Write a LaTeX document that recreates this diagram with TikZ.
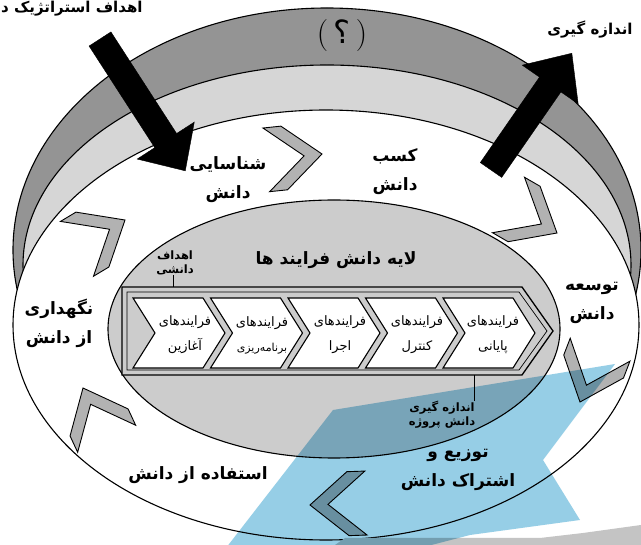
\documentclass[tikz,border=0pt]{standalone}
\usepackage{fontspec}
\newfontfamily\fafont[Script=Arabic]{DejaVu Sans}
\TeXXeTstate=1
\newcommand\faR[1]{\beginR#1\endR}
\definecolor{ringdark}{RGB}{148,148,148}
\definecolor{ringlight}{RGB}{214,214,214}
\definecolor{innergrey}{RGB}{204,204,204}
\definecolor{markgrey}{RGB}{178,178,178}
\definecolor{wmblue}{RGB}{150,206,230}
\definecolor{wmgrey}{RGB}{196,196,196}
\tikzset{
  outl/.style={draw=black, line width=1.1pt},
  lbl/.style={font=\fafont\bfseries\fontsize{17}{29}\selectfont, align=center, inner sep=0pt},
  small/.style={font=\fafont\bfseries\fontsize{11.5}{14}\selectfont, align=center, inner sep=0pt},
  proc/.style={font=\fafont\fontsize{13}{25}\selectfont, align=center, inner sep=0pt},
  chev/.style={fill=white, draw=black, line width=1.1pt, line join=miter},
  marker/.style={fill=markgrey, draw=black, line width=0.9pt, line join=miter},
  bigarrow/.style={fill=black, draw=black, line join=miter}
}
\begin{document}
\begin{tikzpicture}[x=1pt,y=-1pt]
\useasboundingbox (0,0) rectangle (641,545);
\clip (0,0) rectangle (641,545);
\fill[white] (0,0) rectangle (641,545);
% rings
\filldraw[fill=ringdark, outl] (327,250) ellipse [x radius=314pt, y radius=242pt];
\filldraw[fill=ringlight, outl] (327,265) ellipse [x radius=304pt, y radius=200pt];
\filldraw[fill=white, outl] (326,325) ellipse [x radius=313pt, y radius=215pt];
\filldraw[fill=innergrey, outl] (334,329) ellipse [x radius=226pt, y radius=129pt];
% process band
\filldraw[fill=innergrey, draw=black, line width=1.3pt, line join=miter]
  (122,287) -- (522,287) -- (553,331) -- (522,375) -- (122,375) -- cycle;
\draw[line width=0.7pt, line join=miter]
  (127,292) -- (519,292) -- (547,331) -- (519,370) -- (127,370) -- cycle;
\foreach \i in {0,...,4}{
  \pgfmathsetmacro\xa{133+77.5*\i}
  \filldraw[chev] (\xa,298) -- ({\xa+70},298) -- ({\xa+92},333) -- ({\xa+70},368) -- (\xa,368) -- ({\xa+22},333) -- cycle;
}
\node[proc] (p1) at (185,335) {\faR{فرایندهای}\\\faR{آغازین}};
\node[proc] (p2) at (262,335) {\faR{فرایندهای}\\{\fontsize{11}{25}\selectfont\faR{برنامه‌ریزی}}};
\node[proc] (p3) at (340,335) {\faR{فرایندهای}\\\faR{اجرا}};
\node[proc] (p4) at (417,335) {\faR{فرایندهای}\\\faR{کنترل}};
\node[proc] (p5) at (493,335) {\faR{فرایندهای}\\\faR{پایانی}};
% inner labels
\node[lbl] (layer) at (336,260) {\faR{لایه دانش فرایند ها}};
\node[small] (goals) at (175,263) {\faR{اهداف}\\\faR{دانشی}};
\coordinate (t1) at (173,287);
\draw[line width=0.8pt] (t1 |- goals.south) -- (t1);
% markers
\foreach \vx/\vy/\ang in {322/154/6, 557/233/-30, 580/402/-111, 310/505/182, 83/388/115, 125/220/31}{
  \filldraw[marker, shift={(\vx,\vy)}, rotate=\ang]
    (0,0) -- (-38,32) -- (-56,32) -- (-18,0) -- (-56,-32) -- (-38,-32) -- cycle;
}
% big arrows
\filldraw[bigarrow, shift={(100,39)}, rotate=-57.1]
  (0,-13) -- (121,-13) -- (121,-34) -- (157,0) -- (121,34) -- (121,13) -- (0,13) -- cycle;
\filldraw[bigarrow, shift={(491,170)}, rotate=55.3]
  (0,-13) -- (104,-13) -- (104,-34) -- (142,0) -- (104,34) -- (104,13) -- (0,13) -- cycle;
% ring labels
\node[lbl] (shen) at (228,180) {\faR{شناسایی}\\\faR{دانش}};
\node[lbl] (kasb) at (395,172) {\faR{کسب}\\\faR{دانش}};
\node[lbl] (tows) at (592,303) {\faR{توسعه}\\\faR{دانش}};
\node[lbl] (negah) at (59,323) {\faR{نگهداری}\\\faR{از دانش}};
\node[lbl] (estef) at (198,475) {\faR{استفاده از دانش}};
\node[lbl] (tozi) at (458,470) {\faR{توزیع و}\\\faR{اشتراک دانش}};
\node[small] (meas) at (442,415) {\faR{اندازه گیری}\\\faR{دانش پروژه}};
\coordinate (t2) at (474,375);
\draw[line width=0.8pt] (t2) -- (t2 |- meas.north);
% top labels
\node[lbl, anchor=west, font=\fafont\bfseries\fontsize{15}{18}\selectfont] (strat) at (1,9) {\faR{اهداف استراتژیک د}};
\node[lbl, font=\fafont\bfseries\fontsize{15}{18}\selectfont] (andaz) at (590,30) {\faR{اندازه گیری}};
\node[inner sep=0pt, font=\fontsize{32}{32}\selectfont] (qm) at (342,36) {(\,{\fafont ؟}\,)};
% watermark-like overlay shapes
\fill[wmgrey] (335,545) -- (345,538) -- (540,538) -- (583,533) -- (641,525) -- (641,545) -- cycle;
\fill[wmblue, blend mode=multiply] (333,410) -- (615,364) -- (543,460) -- (580,520) -- (470,535) -- (420,548) -- (226,548) -- cycle;
\end{tikzpicture}
\end{document}
